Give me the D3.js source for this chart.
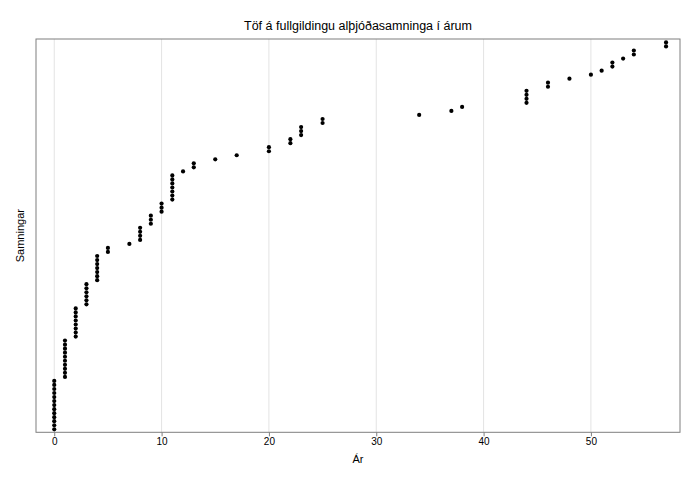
<!DOCTYPE html>
<html><head><meta charset="utf-8">
<script src="https://cdn.jsdelivr.net/npm/d3@7"></script>
<style>body{margin:0;background:#fff}svg{display:block}text{font-family:Arial,"Liberation Sans",sans-serif}</style>
</head><body><svg id="c" width="700" height="477"></svg>
<script>
// Delay (years) values and how many treaties share each delay
const delayYears = [0,1,2,3,4,5,7,8,9,10,11,12,13,15,17,20,22,23,25,34,37,38,44,46,48,50,51,52,53,54,57];
const treatyCounts = [13,10,8,6,7,2,1,4,3,3,7,1,2,1,1,2,2,3,2,1,1,1,4,2,1,1,1,2,1,2,2];
const xTicks = [0,10,20,30,40,50];
const title = "Töf á fullgildingu alþjóðasamninga í árum";
const xLabel = "Ár";
const yLabel = "Samningar";

const points = [];
delayYears.forEach((d,i)=>{ for(let k=0;k<treatyCounts[i];k++) points.push(d); });
points.forEach((d,i)=>{});
const data = points.map((d,i)=>({x:d, rank:i+1}));

const svg = d3.select("#c");
const L=36, R=680, T=39, B=432.3;
const x = d3.scaleLinear().domain([-1.7,58.3]).range([L,R]);
const y = d3.scaleLinear().domain([0.25,97.85]).range([B,T]);

// grid
svg.append("g").selectAll("line").data(xTicks).join("line")
  .attr("x1",d=>x(d)).attr("x2",d=>x(d)).attr("y1",T).attr("y2",B)
  .attr("stroke","#e3e3e3").attr("stroke-width",1);

// points
svg.append("g").selectAll("circle").data(data).join("circle")
  .attr("cx",d=>x(d.x)).attr("cy",d=>y(d.rank)).attr("r",2.1).attr("fill","#000");

// panel border
svg.append("rect").attr("x",L).attr("y",T).attr("width",R-L).attr("height",B-T)
  .attr("fill","none").attr("stroke","#7f7f7f").attr("stroke-width",1);

// x axis
const ax = svg.append("g").attr("transform",`translate(0,${B})`)
  .call(d3.axisBottom(x).tickValues(xTicks).tickSize(4).tickPadding(2));
ax.select(".domain").remove();
ax.selectAll(".tick line").attr("stroke","#7f7f7f");
ax.selectAll(".tick text").attr("font-size",10).attr("fill","#000");

svg.append("text").attr("x",(L+R)/2).attr("y",30).attr("text-anchor","middle")
  .attr("font-size",12.5).attr("fill","#000").text(title);
svg.append("text").attr("x",(L+R)/2).attr("y",463).attr("text-anchor","middle")
  .attr("font-size",11).attr("fill","#000").text(xLabel);
svg.append("text").attr("transform",`translate(24,${(T+B)/2}) rotate(-90)`).attr("text-anchor","middle")
  .attr("font-size",11).attr("fill","#000").text(yLabel);
</script></body></html>
